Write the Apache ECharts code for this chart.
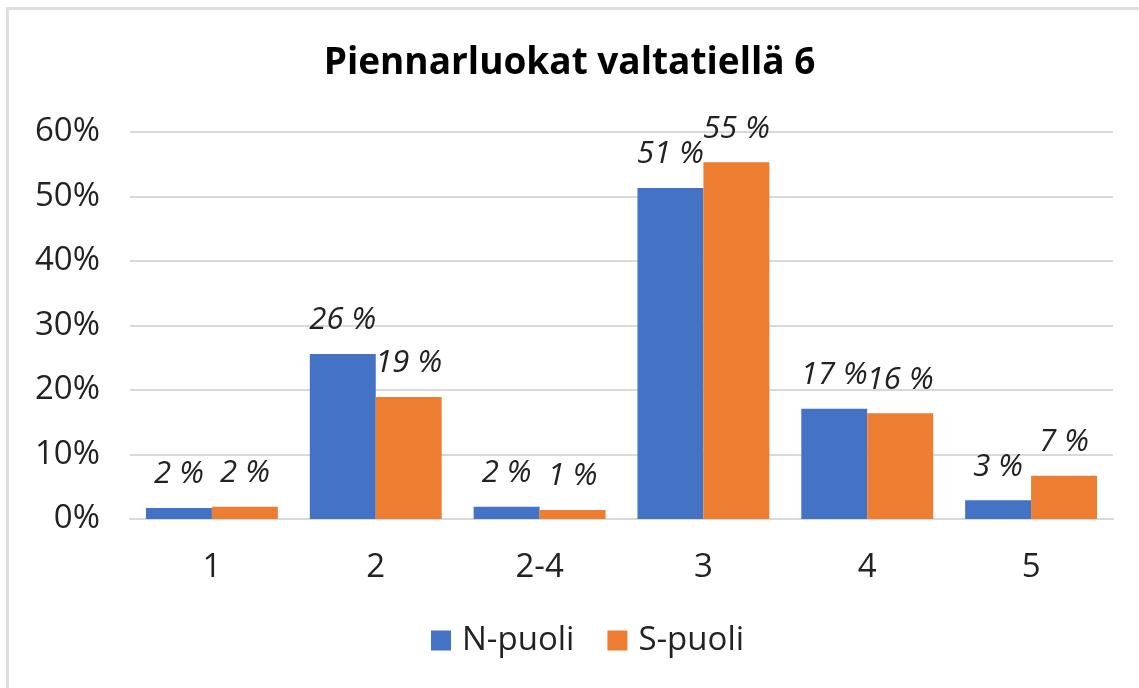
<!DOCTYPE html>
<html>
<head>
<meta charset="utf-8">
<script src="https://cdn.jsdelivr.net/npm/echarts@6/dist/echarts.min.js"></script>
<style>
    html, body { margin: 0; padding: 0; background: #fff; }
    #chart { width: 1139px; height: 688px; }
</style>
</head>
<body>
<div id="chart"></div>
<script>
// piennarluokat, osuudet prosentteina
var categories = ['1', '2', '2-4', '3', '4', '5'];
var nPuoli = [1.7, 25.6, 1.9, 51.3, 17.1, 2.9];
var sPuoli = [1.9, 18.9, 1.4, 55.3, 16.4, 6.7];
var yTicks = [0, 10, 20, 30, 40, 50, 60];

var fontFam = '"Open Sans", "Noto Sans", sans-serif';

var chart = echarts.init(document.getElementById('chart'));

var labelStyle = {
    show: true,
    position: 'top',
    distance: 18,
    fontFamily: fontFam,
    fontStyle: 'italic',
    fontSize: 31,
    color: '#222',
    formatter: function (p) {
        return Math.round(p.value) + ' %';
    }
};

chart.setOption({
    animation: false,
    backgroundColor: '#fff',
    title: {
        text: 'Piennarluokat valtatiellä 6',
        left: 'center',
        top: 40,
        textStyle: {fontFamily: fontFam, fontWeight: 'bold', fontSize: 37, color: '#000'}
    },
    legend: {
        bottom: 26,
        left: 426,
        itemWidth: 20,
        itemHeight: 20,
        itemGap: 33,
        icon: 'rect',
        textStyle: {fontFamily: fontFam, fontSize: 33, color: '#222', padding: [0, 0, 0, 6]},
        data: ['N-puoli', 'S-puoli']
    },
    grid: {left: 130, right: 26, top: 132, bottom: 169},
    xAxis: {
        type: 'category',
        data: categories,
        axisLine: {lineStyle: {color: '#d9d9d9', width: 2}},
        axisTick: {show: false},
        axisLabel: {fontFamily: fontFam, fontSize: 33, color: '#222', margin: 32}
    },
    yAxis: {
        type: 'value',
        min: yTicks[0],
        max: yTicks[yTicks.length - 1],
        interval: 10,
        axisLine: {show: false},
        axisTick: {show: false},
        splitLine: {lineStyle: {color: '#d9d9d9', width: 2}},
        axisLabel: {fontFamily: fontFam, fontSize: 33, color: '#222', margin: 30, formatter: '{value}%'}
    },
    series: [
        {
            name: 'N-puoli',
            type: 'bar',
            data: nPuoli,
            barGap: '0%',
            barCategoryGap: '19.5%',
            itemStyle: {color: '#4472C4'},
            label: labelStyle
        },
        {
            name: 'S-puoli',
            type: 'bar',
            data: sPuoli,
            barGap: '0%',
            barCategoryGap: '19.5%',
            itemStyle: {color: '#ED7D31'},
            label: labelStyle
        }
    ],
    graphic: [
        {type: 'line', shape: {x1: 7.5, y1: 8.5, x2: 7.5, y2: 688}, style: {stroke: '#e0e0e0', lineWidth: 3}},
        {type: 'line', shape: {x1: 6, y1: 8.5, x2: 1139, y2: 8.5}, style: {stroke: '#e0e0e0', lineWidth: 3}}
    ]
});
</script>
</body>
</html>
